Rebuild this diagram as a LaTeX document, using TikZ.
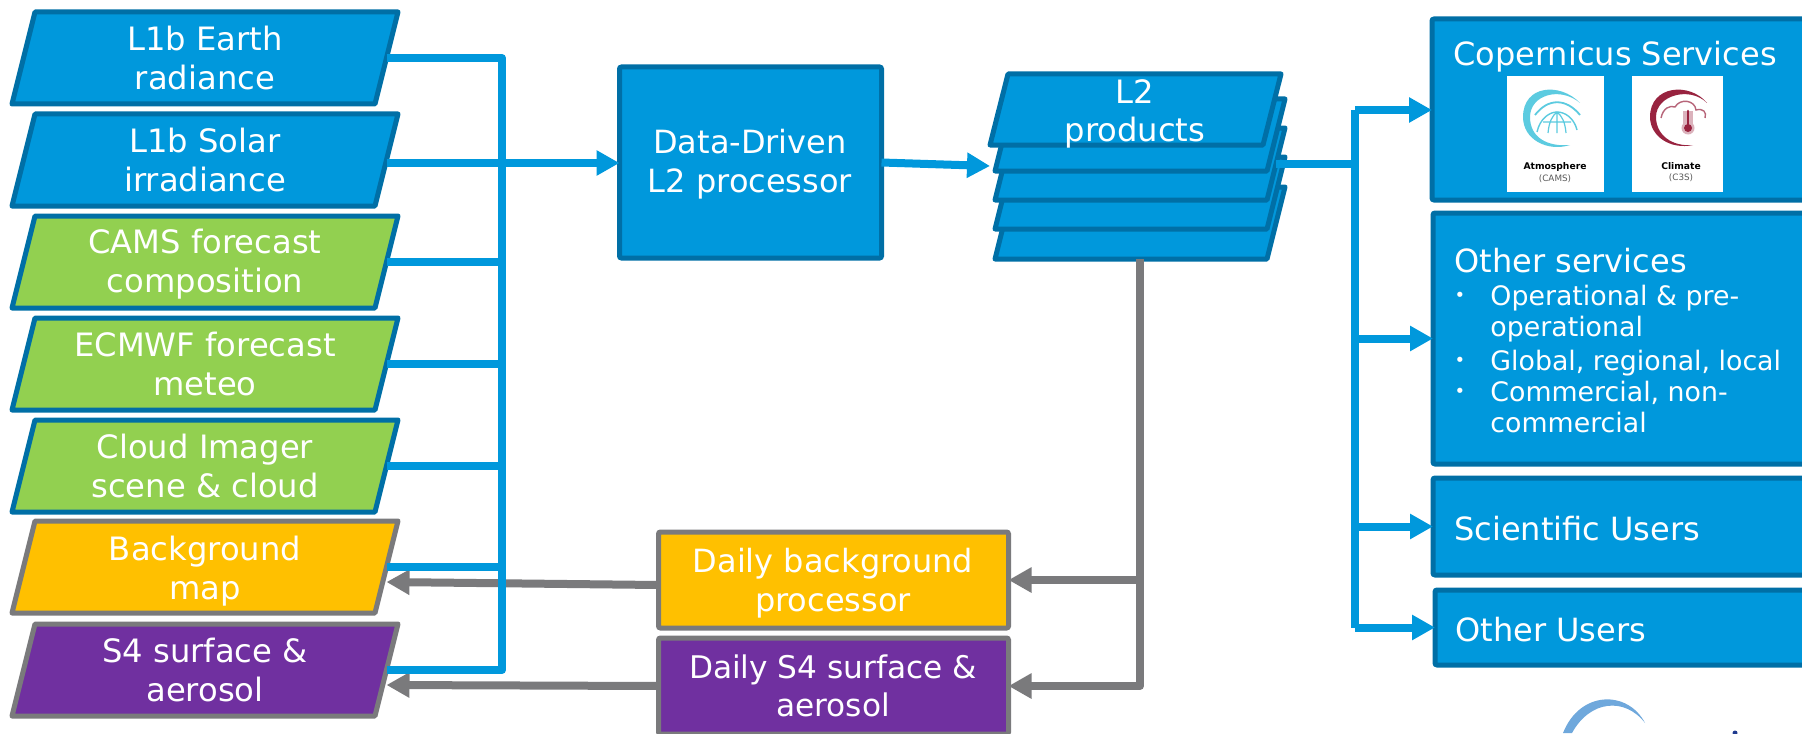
\documentclass[tikz,border=0pt]{standalone}
\usepackage{fontspec}
\setmainfont{DejaVu Sans}
\usetikzlibrary{arrows.meta,calc}
\definecolor{bluefill}{HTML}{0098DC}
\definecolor{blueedge}{HTML}{006FA6}
\definecolor{greenfill}{HTML}{92D050}
\definecolor{goldfill}{HTML}{FFC000}
\definecolor{purplefill}{HTML}{7030A0}
\definecolor{grayedge}{HTML}{7A7A7C}
\definecolor{atm}{HTML}{5CCBE0}
\definecolor{clim}{HTML}{98233F}
\definecolor{footarc}{HTML}{6FA8DC}
\definecolor{footdot}{HTML}{1F3A8F}
\tikzset{
  x=0.5pt,y=-0.5pt,
  slantshape/.style={line width=2.5pt,line join=round},
  slanttext/.style={text=white,font=\fontsize{16.1}{19.2}\selectfont,align=center,inner sep=0pt},
  bluewire/.style={draw=bluefill,line width=4pt,line join=round},
  graywire/.style={draw=grayedge,line width=4pt,line join=round},
  bluearrow/.style={bluewire,-{Triangle[length=11.5pt,width=12pt]}},
  grayarrow/.style={graywire,-{Triangle[length=11.5pt,width=12pt]}},
  squarebox/.style={line width=2.5pt,rounded corners=1pt,inner sep=0pt,outer sep=0pt,anchor=north west,align=center},
  boxlabel/.style={text=white,inner sep=0pt,align=center,font=\fontsize{16}{19.2}\selectfont},
  boxtext/.style={text=white,anchor=west,inner sep=0pt,font=\fontsize{16}{20}\selectfont},
  listtext/.style={text=white,anchor=north west,align=left,inner sep=0pt,font=\fontsize{13.4}{15.6}\selectfont},
  logobox/.style={fill=white,draw=none,inner sep=0pt,outer sep=0pt,anchor=north west},
}
% name, cx, cy, half width, half height, slant, fill, edge, text
\newcommand{\slantnode}[9]{%
  \filldraw[slantshape,fill=#7,draw=#8]
    ({#2-#4+#6},{#3-#5}) -- ({#2+#4+#6},{#3-#5}) -- ({#2+#4-#6},{#3+#5}) -- ({#2-#4-#6},{#3+#5}) -- cycle;
  \node[slanttext,outer sep=0pt,minimum width={2*#4*0.5pt},minimum height={2*#5*0.5pt}] (#1) at (#2,#3) {#9};
}
\begin{document}
\begin{tikzpicture}
\clip (0,0) rectangle (1802,733);
% input sheets
\slantnode{earth}{205}{58}{181.5}{46}{11.5}{bluefill}{blueedge}{L1b Earth\\radiance}
\slantnode{solar}{205}{160}{181.5}{46}{11.5}{bluefill}{blueedge}{L1b Solar\\irradiance}
\slantnode{cams}{205}{262}{181.5}{46}{11.5}{greenfill}{blueedge}{}
\node[slanttext] (camst) at (205,264) {CAMS forecast\\composition};
\slantnode{ecmwf}{205}{364}{181.5}{46}{11.5}{greenfill}{blueedge}{ECMWF forecast\\meteo}
\slantnode{cloud}{205}{466}{181.5}{46}{11.5}{greenfill}{blueedge}{Cloud Imager\\scene \& cloud}
\slantnode{bgmap}{205}{567}{181.5}{46}{11.5}{goldfill}{grayedge}{}
\node[slanttext] (bgmapt) at (205,571) {Background\\map};
\slantnode{surf}{205}{670}{181.5}{46}{11.5}{purplefill}{grayedge}{S4 surface \&\\aerosol}
% centre boxes
\node[squarebox,fill=bluefill,draw=blueedge,minimum width=131pt,minimum height=95.5pt] (proc) at (619.5,67) {};
\node[boxlabel] (proct) at (750,164) {Data-Driven\\L2 processor};
\node[squarebox,fill=goldfill,draw=grayedge,minimum width=175pt,minimum height=48pt] (dbg) at (658.5,532) {};
\node[boxlabel] (dbgt) at (833,583) {Daily background\\processor};
\node[squarebox,fill=purplefill,draw=grayedge,minimum width=175pt,minimum height=48pt] (ds4) at (658.5,638) {};
\node[boxlabel,font=\fontsize{15.6}{19.2}\selectfont] (ds4t) at (833,686) {Daily S4 surface \&\\aerosol};
% L2 stack
\slantnode{sheetd}{1140}{223}{136}{36}{9}{bluefill}{blueedge}{}
\slantnode{sheetc}{1140}{193}{136}{36}{9}{bluefill}{blueedge}{}
\slantnode{sheetb}{1140}{164}{136}{36}{9}{bluefill}{blueedge}{}
\slantnode{sheeta}{1140}{135}{136}{36}{9}{bluefill}{blueedge}{}
\slantnode{sheettop}{1135.5}{109.5}{136.5}{35.5}{9}{bluefill}{blueedge}{}
\node[slanttext] (l2text) at (1135,114) {L2\\products};
% right boxes
\node[squarebox,fill=bluefill,draw=blueedge,minimum width=200pt,minimum height=90.5pt] (copern) at (1432,19) {};
\node[squarebox,fill=bluefill,draw=blueedge,minimum width=200pt,minimum height=125.5pt] (other) at (1433,213) {};
\node[squarebox,fill=bluefill,draw=blueedge,minimum width=200pt,minimum height=48.5pt] (sci) at (1433,478) {};
\node[squarebox,fill=bluefill,draw=blueedge,minimum width=200pt,minimum height=37.5pt] (ouser) at (1435,590) {};
\node[boxtext] (copernt) at (1453,57) {Copernicus Services};
\node[boxtext] (othert) at (1454,261) {Other services};
\node[boxtext] (scit) at (1454,529) {Scientific Users};
\node[boxtext] (ousert) at (1455,630) {Other Users};
\node[listtext] (li1) at (1490,285) {Operational \& pre-\\operational};
\node[listtext] (li2) at (1490,350) {Global, regional, local};
\node[listtext] (li3) at (1490,381) {Commercial, non-\\commercial};
\foreach \n/\yy in {b1/297,b2/362,b3/393}{\node[text=white,inner sep=0pt,font=\fontsize{9}{9}\selectfont] (\n) at (1460,\yy) {•};}
% logos
\node[logobox,minimum width=48.5pt,minimum height=58pt] (logoa) at (1507,76) {};
\node[logobox,minimum width=45.5pt,minimum height=58pt] (logob) at (1632,76) {};
\node[inner sep=0pt,font=\bfseries\fontsize{4.6}{5}\selectfont] (logoat) at (1555,167) {Atmosphere};
\node[inner sep=0pt,text=black!65,font=\fontsize{4.4}{5}\selectfont] (logoac) at (1555,179) {(CAMS)};
\node[inner sep=0pt,font=\bfseries\fontsize{4.6}{5}\selectfont] (logobt) at (1681,166) {Climate};
\node[inner sep=0pt,text=black!65,font=\fontsize{4.4}{5}\selectfont] (logobc) at (1681,178) {(C3S)};
% atmosphere icon
\fill[atm] (1580,103) .. controls (1560,82) and (1523,85) .. (1523,117)
  .. controls (1523,140) and (1548,152) .. (1570,145)
  .. controls (1548,147) and (1530,138) .. (1530,117)
  .. controls (1530,95) and (1560,86) .. (1580,103) -- cycle;
\draw[atm,line width=0.9pt] (1535,115) .. controls (1548,98) and (1566,98) .. (1580,115);
\draw[atm,line width=0.7pt] (1537,132) .. controls (1540,118) and (1550,112) .. (1557,112)
  .. controls (1565,112) and (1574,118) .. (1577,130);
\draw[atm,line width=0.6pt] (1543,122) -- (1571,122)
  (1557,112) -- (1557,133)
  (1548,133) .. controls (1549,122) and (1552,116) .. (1557,112)
  (1566,133) .. controls (1565,122) and (1562,116) .. (1557,112);
% climate icon
\fill[clim] (1707,103) .. controls (1690,82) and (1650,85) .. (1650,117)
  .. controls (1650,136) and (1670,150) .. (1693,145)
  .. controls (1672,147) and (1656,135) .. (1656,117)
  .. controls (1656,95) and (1690,86) .. (1707,103) -- cycle;
\draw[clim!70,line width=0.7pt] (1661,118) .. controls (1663,108) and (1670,105) .. (1675,107)
  .. controls (1680,98) and (1695,100) .. (1696,110) .. controls (1703,108) and (1707,112) .. (1705,118);
\fill[clim!35] (1683,111) rectangle (1693,126);
\fill[clim!35] (1688,128) circle (6.5);
\draw[clim,line width=1.3pt,line cap=round] (1688,111) -- (1688,125);
\fill[clim] (1688,128) circle (4);
% connectors: gray
\draw[grayarrow] (sheetd.south) -- (sheetd.south |- ds4.east) -- (ds4.east);
\draw[grayarrow] (sheetd.south |- dbg.east) -- (dbg.east);
\coordinate (tipbg) at ($(bgmap.east)+(0,15)$);
\coordinate (tipsf) at ($(surf.east)+(0,15)$);
\coordinate (dbgout) at ($(dbg.west)+(0,5)$);
\draw[grayarrow] (dbgout) -- (tipbg);
\draw[grayarrow] (ds4.west) -- (tipsf);
% connectors: blue
\coordinate (busn) at (502,58);
\draw[bluewire] (earth.east) -| (502,670) -- (surf.east);
\draw[bluewire] (cams.east) -- (cams.east -| busn);
\draw[bluewire] (ecmwf.east) -- (ecmwf.east -| busn);
\draw[bluewire] (cloud.east) -- (cloud.east -| busn);
\draw[bluewire] (bgmap.east) -- (bgmap.east -| busn);
\coordinate (solarm) at ($(solar.east)+(0,3)$);
\draw[bluearrow] (solarm) -- (solarm -| proc.west);
\coordinate (stackin) at ($(sheetb.west)+(-14,2)$);
\draw[bluearrow] (proc.east) -- (stackin);
% output bus
\coordinate (busr) at (1355,110);
\draw[bluewire] (sheetb.east) -- (sheetb.east -| busr);
\draw[bluearrow] (ouser.west -| busr) -- (ouser.west);
\draw[bluewire] (busr |- ouser.west) -- (busr);
\draw[bluearrow] (busr) -- (busr -| copern.west);
\draw[bluearrow] (busr |- other.west) -- (other.west);
\draw[bluearrow] (busr |- sci.west) -- (sci.west);
% partly shown logo at the foot
\fill[footarc] (1645,723) .. controls (1628,690) and (1580,690) .. (1563,733)
  -- (1572,733) .. controls (1590,700) and (1625,697) .. (1645,723) -- cycle;
\fill[footdot] (1735,733) circle (2.5);
\end{tikzpicture}
\end{document}
